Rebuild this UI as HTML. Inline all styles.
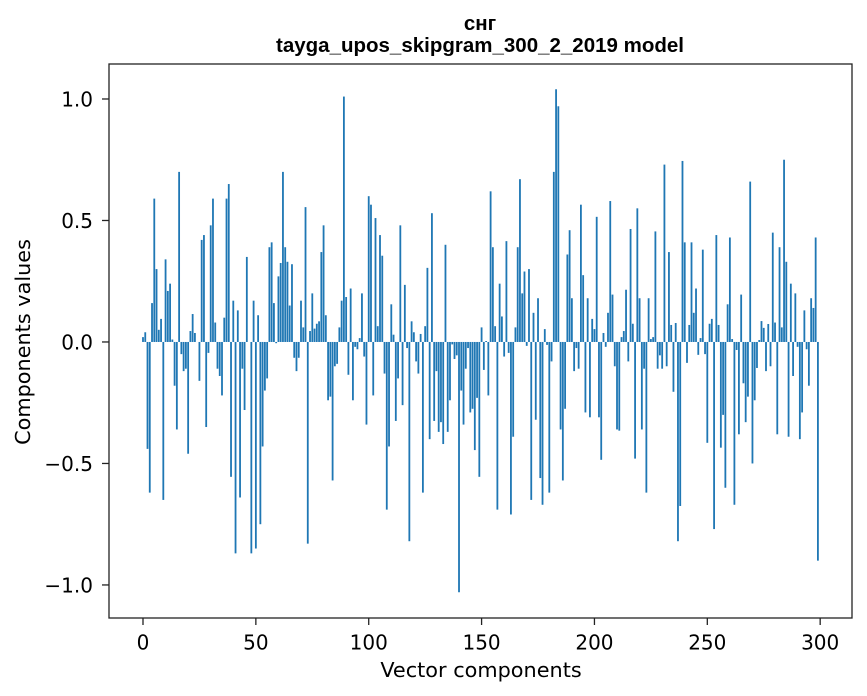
<!DOCTYPE html>
<html><head><meta charset="utf-8"><style>
body{margin:0;background:#fff;}
svg{display:block;font-family:"DejaVu Sans","Liberation Sans",sans-serif;}
</style></head><body>
<svg id="chart" width="867" height="696" viewBox="0 0 867 696">
<text x="480" y="30" text-anchor="middle" font-size="20.5" font-weight="bold" font-family="Liberation Sans, sans-serif">снг</text>
<text x="480" y="52" text-anchor="middle" font-size="20.5" font-weight="bold" font-family="Liberation Sans, sans-serif">tayga_upos_skipgram_300_2_2019 model</text>
<g id="bars"></g>
<rect x="109" y="64" width="743" height="554" fill="none" stroke="#222" stroke-width="1.3"/>
<g id="xticks"></g>
<g id="yticks"></g>
<text x="481" y="677" text-anchor="middle" font-size="20.8">Vector components</text>
<text x="0" y="0" transform="translate(30,342) rotate(-90)" text-anchor="middle" font-size="20.8">Components values</text>
</svg>
<script>
const values = [0.02,0.04,-0.44,-0.62,0.16,0.59,0.30,0.05,0.095,-0.65,
0.34,0.21,0.24,0.01,-0.18,-0.36,0.70,-0.05,-0.12,-0.11,
-0.46,0.045,0.115,0.037,0.0,-0.16,0.42,0.44,-0.35,-0.045,
0.48,0.59,0.08,-0.11,-0.14,-0.22,0.10,0.59,0.65,-0.555,
0.17,-0.87,0.13,-0.64,-0.11,-0.28,0.35,0.0,-0.87,0.17,
-0.85,0.11,-0.75,-0.43,-0.20,-0.15,0.39,0.41,0.16,-0.005,
0.27,0.325,0.70,0.39,0.33,0.15,0.32,-0.065,-0.12,-0.065,
0.17,0.06,0.555,-0.83,0.045,0.20,0.055,0.075,0.085,0.37,
0.48,0.11,-0.24,-0.225,-0.57,-0.10,-0.09,0.06,0.17,1.01,
0.185,-0.135,0.22,-0.24,-0.02,-0.03,0.016,0.20,-0.06,-0.34,
0.60,0.565,-0.22,0.51,0.065,0.44,0.355,-0.13,-0.69,-0.43,
0.155,0.03,-0.325,-0.15,0.48,-0.26,0.235,-0.025,-0.82,0.085,
0.04,-0.08,-0.13,0.033,-0.62,0.065,0.305,-0.40,0.53,-0.325,
-0.12,-0.37,-0.33,-0.42,0.40,-0.37,-0.24,-0.01,-0.07,-0.055,
-1.03,-0.20,-0.34,-0.11,-0.025,-0.29,-0.275,-0.445,-0.23,-0.555,
0.06,-0.115,0.004,-0.22,0.62,0.39,0.065,-0.69,0.24,0.105,
-0.06,0.415,-0.045,-0.71,-0.39,0.06,0.39,0.67,0.20,0.29,
-0.016,0.30,-0.65,0.12,-0.32,0.18,-0.56,-0.67,0.053,-0.012,
-0.62,-0.08,0.70,1.04,0.97,-0.36,-0.57,-0.275,0.36,0.46,
0.18,-0.12,-0.025,-0.11,0.565,0.275,-0.29,0.18,-0.31,0.095,
0.053,0.515,-0.31,-0.485,0.037,-0.02,0.12,0.58,0.195,-0.10,
-0.36,-0.365,0.02,0.045,0.215,-0.08,0.465,0.075,-0.48,0.55,
0.18,-0.36,-0.11,-0.62,0.18,0.012,0.02,0.455,-0.11,-0.055,
-0.11,0.73,-0.10,0.37,0.07,-0.205,0.078,-0.82,-0.675,0.745,
0.41,-0.086,0.07,0.41,0.12,0.22,-0.053,0.016,0.38,-0.05,
-0.415,0.075,0.095,-0.77,0.44,0.07,-0.435,-0.30,-0.60,0.155,
0.43,0.012,-0.67,-0.033,-0.38,0.195,-0.17,-0.33,-0.225,0.66,
-0.50,-0.24,-0.107,0.008,0.086,0.058,-0.12,0.074,-0.10,0.45,
0.08,-0.38,0.39,0.06,0.75,0.33,-0.39,0.24,-0.14,0.20,
-0.02,-0.40,-0.29,0.13,-0.03,-0.18,0.18,0.14,0.43,-0.90];
const xTicks = [0,50,100,150,200,250,300];
const yTicks = [1.0,0.5,0.0,-0.5,-1.0];
const yTickLabels = ["1.0","0.5","0.0","\u22120.5","\u22121.0"];

const NS="http://www.w3.org/2000/svg";
const L=109,R=852,T=64,B=618;
const xMin=-15.06,xMax=314.1,yMin=-1.136,yMax=1.144;
function xs(v){return L+(v-xMin)/(xMax-xMin)*(R-L);}
function ys(v){return T+(yMax-v)/(yMax-yMin)*(B-T);}
const bars=document.getElementById('bars');
values.forEach((v,i)=>{
  const r=document.createElementNS(NS,'rect');
  const x0=xs(i-0.4),x1=xs(i+0.4);
  const y0=ys(Math.max(v,0)),y1=ys(Math.min(v,0));
  r.setAttribute('x',x0);r.setAttribute('width',x1-x0);
  r.setAttribute('y',y0);r.setAttribute('height',Math.max(y1-y0,0));
  r.setAttribute('fill','#1f77b4');
  
  
  bars.appendChild(r);
});
const xg=document.getElementById('xticks');
xTicks.forEach(t=>{
  const x=xs(t);
  const l=document.createElementNS(NS,'line');
  l.setAttribute('x1',x);l.setAttribute('x2',x);l.setAttribute('y1',B);l.setAttribute('y2',B+7);
  l.setAttribute('stroke','#222');l.setAttribute('stroke-width','1.3');
  
  
  xg.appendChild(l);
  const tx=document.createElementNS(NS,'text');
  tx.setAttribute('x',x);tx.setAttribute('y',B+31.5);tx.setAttribute('text-anchor','middle');tx.setAttribute('font-size','20');
  tx.textContent=t;
  
  
  xg.appendChild(tx);
});
const yg=document.getElementById('yticks');
yTicks.forEach((t,k)=>{
  const y=ys(t);
  const l=document.createElementNS(NS,'line');
  l.setAttribute('x1',L-7);l.setAttribute('x2',L);l.setAttribute('y1',y);l.setAttribute('y2',y);
  l.setAttribute('stroke','#222');l.setAttribute('stroke-width','1.3');
  
  
  yg.appendChild(l);
  const tx=document.createElementNS(NS,'text');
  tx.setAttribute('x',93);tx.setAttribute('y',y+7.3);tx.setAttribute('text-anchor','end');tx.setAttribute('font-size','20');
  tx.textContent=yTickLabels[k];
  
  
  yg.appendChild(tx);
});
</script>
</body></html>
